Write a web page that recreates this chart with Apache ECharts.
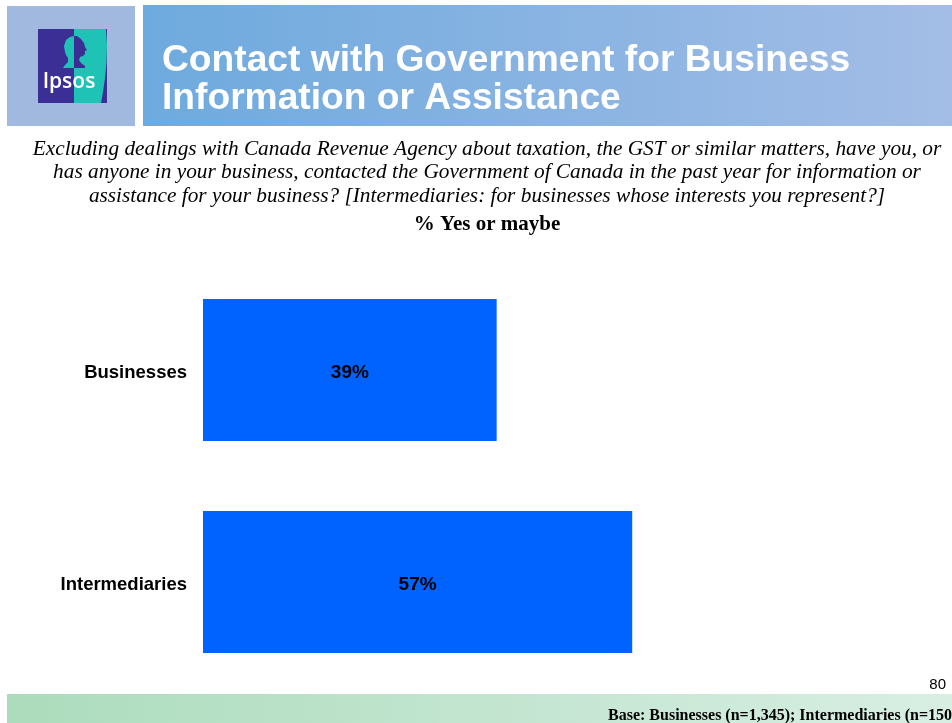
<!DOCTYPE html>
<html>
<head>
<meta charset="utf-8">
<title>Contact with Government for Business Information or Assistance</title>
<script src="https://cdn.jsdelivr.net/npm/echarts@6/dist/echarts.min.js"></script>
<style>
  html, body { margin: 0; padding: 0; background: #ffffff; }
  #chart { width: 952px; height: 723px; }
</style>
</head>
<body>
<div id="chart"></div>
<script>
// Survey groups and share answering "yes or maybe" (%)
const categories = ['Businesses', 'Intermediaries'];
const yesOrMaybe = [39, 57];

const titleLines = ['Contact with Government for Business', 'Information or Assistance'];
const questionLines = [
  'Excluding dealings with Canada Revenue Agency about taxation, the GST or similar matters, have you, or',
  'has anyone in your business, contacted the Government of Canada in the past year for information or',
  'assistance for your business? [Intermediaries: for businesses whose interests you represent?]'
];
const measureLabel = '% Yes or maybe';
const pageNumber = '80';
const baseNote = 'Base: Businesses (n=1,345); Intermediaries (n=150)';

const SANS = '"Liberation Sans", Arial, sans-serif';
const SERIF = '"Liberation Serif", "Times New Roman", serif';
const PURPLE = '#3b2f95';
const TEAL = '#1ec3b6';

const chart = echarts.init(document.getElementById('chart'), null, { renderer: 'canvas' });

const graphics = [
  // header: logo tile
  { type: 'rect', shape: { x: 7, y: 6, width: 128, height: 120 }, style: { fill: '#a1b9df' }, silent: true },
  // header: title banner with gradient
  {
    type: 'rect', shape: { x: 143, y: 5, width: 809, height: 121 },
    style: {
      fill: new echarts.graphic.LinearGradient(0, 0, 1, 0, [
        { offset: 0, color: '#6eaade' },
        { offset: 1, color: '#a3bde6' }
      ])
    },
    silent: true
  },
  // logo: purple square
  { type: 'rect', shape: { x: 38, y: 29, width: 69, height: 74 }, style: { fill: PURPLE }, silent: true },
  // logo: teal curved panel
  {
    type: 'polygon', silent: true,
    shape: { points: [[74, 29], [106, 29], [107, 45], [106.5, 62], [105, 78], [103, 92], [101, 103], [74, 103]] },
    style: { fill: TEAL }
  },
  // logo: profile head, left half teal on purple
  {
    type: 'polygon', silent: true,
    shape: { points: [[74, 36], [70, 37], [66, 40], [64, 46], [65, 52], [66, 55], [68, 58], [68, 62], [65, 65], [63, 68], [74, 68]] },
    style: { fill: TEAL }
  },
  // logo: profile head, right half purple on teal
  {
    type: 'polygon', silent: true,
    shape: { points: [[74, 36], [77, 36], [81, 39], [84, 43], [85, 47], [87, 50], [85, 51], [85, 54], [83, 56], [80, 57], [79, 60], [81, 63], [85, 66], [85, 68], [74, 68]] },
    style: { fill: PURPLE }
  },
  {
    type: 'text', x: 69, y: 82, silent: true,
    style: { text: 'Ipsos', fill: '#ffffff', align: 'center', verticalAlign: 'middle', font: '600 21px "Open Sans", ' + SANS }
  },
  // footer gradient band
  {
    type: 'rect', shape: { x: 7, y: 694, width: 945, height: 29 },
    style: {
      fill: new echarts.graphic.LinearGradient(0, 0, 1, 0, [
        { offset: 0, color: '#acdcbc' },
        { offset: 1, color: '#d8eee3' }
      ])
    },
    silent: true
  },
  {
    type: 'text', x: 946, y: 685, silent: true,
    style: { text: pageNumber, fill: '#000000', align: 'right', verticalAlign: 'middle', font: '15px ' + SANS }
  },
  {
    type: 'text', x: 608, y: 716, silent: true,
    style: { text: baseNote, fill: '#000000', verticalAlign: 'middle', font: 'bold 16px ' + SERIF }
  },
  {
    type: 'text', x: 487, y: 225, silent: true,
    style: { text: measureLabel, fill: '#000000', align: 'center', verticalAlign: 'middle', font: 'bold 21px ' + SERIF }
  }
];

titleLines.forEach((line, i) => {
  graphics.push({
    type: 'text', x: 162, y: 61 + i * 38, silent: true,
    style: { text: line, fill: '#ffffff', verticalAlign: 'middle', font: 'bold 37.2px ' + SANS }
  });
});

questionLines.forEach((line, i) => {
  graphics.push({
    type: 'text', x: 487, y: 149 + i * 23.7, silent: true,
    style: { text: line, fill: '#000000', align: 'center', verticalAlign: 'middle', font: 'italic 21.3px ' + SERIF }
  });
});

chart.setOption({
  animation: false,
  backgroundColor: '#ffffff',
  grid: { left: 203, top: 264, width: 753, height: 424, containLabel: false, outerBoundsMode: 'none' },
  xAxis: {
    type: 'value', min: 0, max: 100,
    show: false
  },
  yAxis: {
    type: 'category', data: categories, inverse: true,
    axisLine: { show: false }, axisTick: { show: false }, splitLine: { show: false },
    axisLabel: {
      margin: 16,
      formatter: (value) => '{cat|' + value + '}',
      rich: {
        cat: {
          color: '#000000', fontSize: 18.5, fontWeight: 'bold', fontFamily: SANS,
          padding: [6, 0, 0, 0]
        }
      }
    }
  },
  series: [{
    type: 'bar',
    data: yesOrMaybe,
    barWidth: 142,
    itemStyle: { color: '#0062ff' },
    label: {
      show: true, position: 'inside', formatter: '{c}%', offset: [0, 3],
      color: '#000000', fontSize: 19, fontWeight: 'bold', fontFamily: SANS
    }
  }],
  graphic: graphics
});
</script>
</body>
</html>
